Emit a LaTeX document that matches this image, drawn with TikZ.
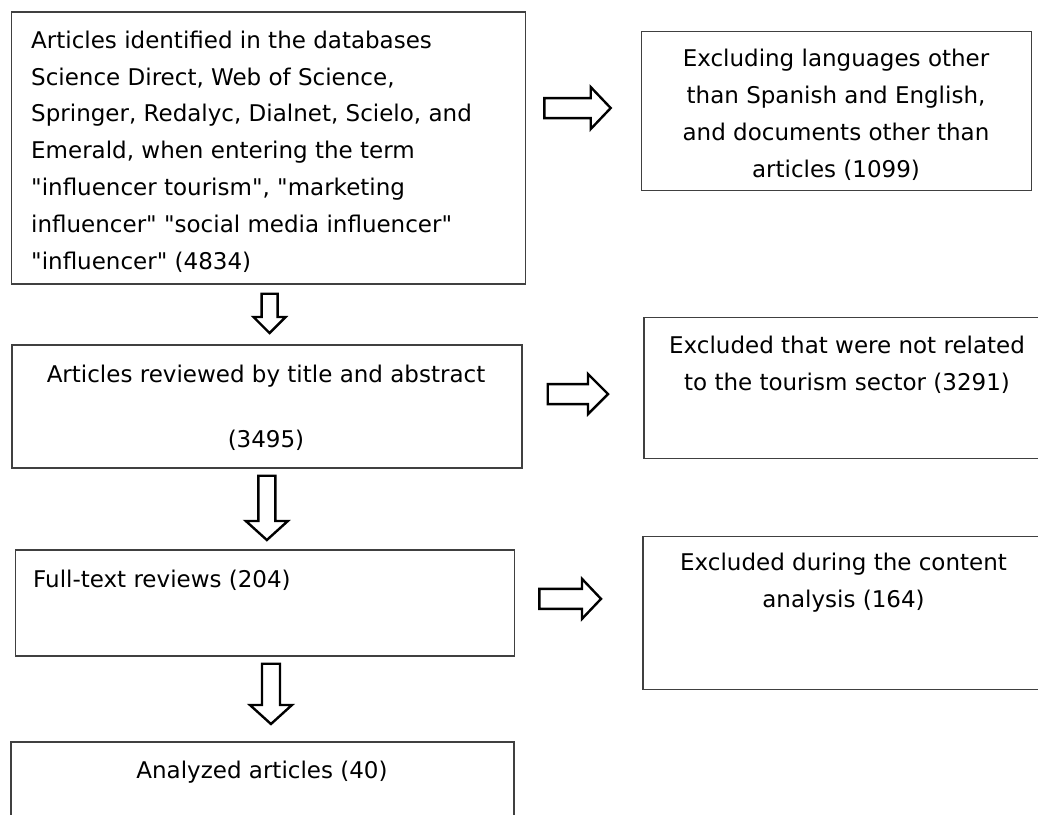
\documentclass[tikz,border=0pt]{standalone}
\usepackage{fontspec}
\newfontfamily\flowfont{DejaVu Sans}
\usetikzlibrary{calc,positioning}
\tikzset{
  flowbox/.style={draw=black!75, line width=1.7pt, inner sep=0pt, anchor=north west},
  flowtext/.style={font=\flowfont\fontsize{23}{36.8}\selectfont, inner sep=0pt},
  blockline/.style={draw=black, line width=2.4pt, line join=miter},
  downblock/.style n args={3}{to path={let \p1=(\tikztostart), \p2=(\tikztotarget) in
    (\x1-#1,\y1) -- (\x1+#1,\y1) -- (\x1+#1,\y2+#3) -- (\x1+#2,\y2+#3) -- (\x1,\y2)
    -- (\x1-#2,\y2+#3) -- (\x1-#1,\y2+#3) -- cycle}},
  rightblock/.style n args={3}{to path={let \p1=(\tikztostart), \p2=(\tikztotarget) in
    (\x1,\y1+#1) -- (\x2-#3,\y1+#1) -- (\x2-#3,\y1+#2) -- (\x2,\y1) -- (\x2-#3,\y1-#2)
    -- (\x2-#3,\y1-#1) -- (\x1,\y1-#1) -- cycle}},
}
\begin{document}
\begin{tikzpicture}[x=1pt, y=-1pt]
\useasboundingbox (0,0) rectangle (1038,814);

%% Boxes
\node[flowbox, minimum width=514pt, minimum height=272pt] (b1) at (10.7,11) {};
\node[flowbox, minimum width=390pt, minimum height=159pt] (b2) at (640.7,30.7) {};
\node[flowbox, minimum width=510pt, minimum height=123pt] (b3) at (11,344) {};
\node[flowbox, minimum width=408pt, minimum height=141pt] (b4) at (643,316.7) {};
\node[flowbox, minimum width=499pt, minimum height=106pt] (b5) at (14.6,549) {};
\node[flowbox, minimum width=403pt, minimum height=153pt] (b6) at (642,535.7) {};
\node[flowbox, minimum width=503pt, minimum height=110pt] (b7) at (10,741) {};

%% Texts (base = last line)
\node[flowtext, anchor=base west, align=left] (t1) at (31,269)
  {Articles identified in the databases\\Science Direct, Web of Science,\\
   Springer, Redalyc, Dialnet, Scielo, and\\Emerald, when entering the term\\
   "influencer tourism", "marketing\\influencer" "social media influencer"\\
   "influencer" (4834)};
\node[flowtext, anchor=base, align=center] (t2) at (836,177)
  {Excluding languages other\\than Spanish and English,\\
   and documents other than\\articles (1099)};
\node[flowtext, anchor=base, align=center] (t3) at (266,447)
  {Articles reviewed by title and abstract\\[28pt](3495)};
\node[flowtext, anchor=base, align=center] (t4) at (847,390)
  {Excluded that were not related\\to the tourism sector (3291)};
\node[flowtext, anchor=base west] (t5) at (33,587) {Full-text reviews (204)};
\node[flowtext, anchor=base, align=center] (t6) at (843.5,607)
  {Excluded during the content\\analysis (164)};
\node[flowtext, anchor=base] (t7) at (262,778) {Analyzed articles (40)};

%% Block arrows
\draw[blockline, downblock={8pt}{16pt}{16pt}]
  ([shift={(1,9)}]b1.south) to ([yshift=11pt]b3.north);
\draw[blockline, downblock={8.5pt}{21pt}{19pt}]
  ([shift={(0,7)}]b3.south) to ([yshift=9pt]b5.north);
\draw[blockline, downblock={9pt}{21pt}{19pt}]
  ([shift={(6,7)}]b5.south) to ([yshift=17pt]b7.north);
\draw[blockline, rightblock={10pt}{21pt}{20pt}]
  ([shift={(18,-3)}]b1.east |- b2.west) to ([xshift=-30pt]b2.west);
\draw[blockline, rightblock={10pt}{20pt}{20pt}]
  ([shift={(25,6)}]b3.east |- b4.west) to ([xshift=-35pt]b4.west);
\draw[blockline, rightblock={10pt}{20pt}{19pt}]
  ([shift={(24,-4)}]b5.east) to ([xshift=-41pt]b6.west);

\end{tikzpicture}
\end{document}
